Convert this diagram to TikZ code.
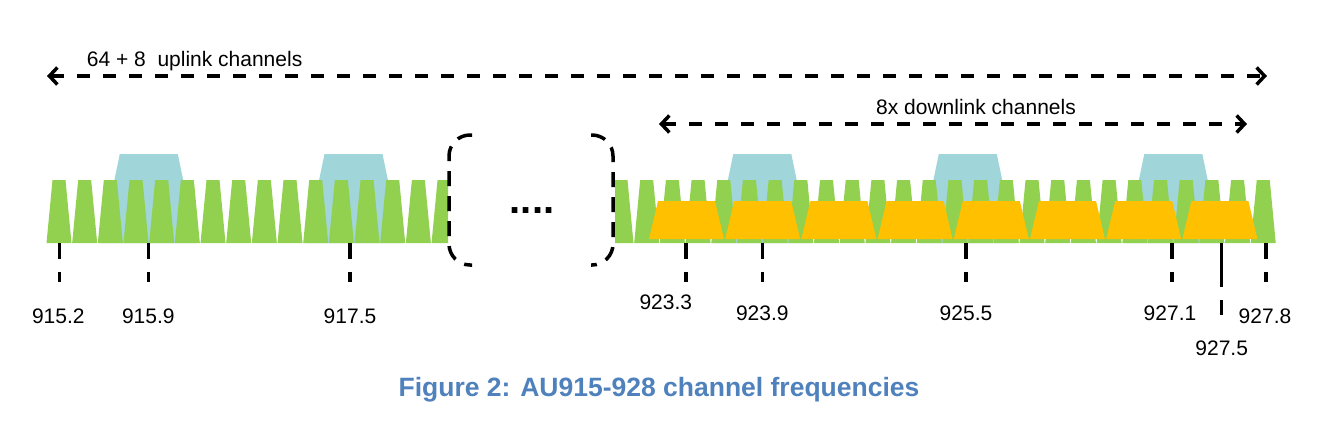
\documentclass[tikz,border=0pt]{standalone}
\usepackage{fontspec}
\setmainfont{Liberation Sans}
\usetikzlibrary{arrows.meta}
\definecolor{chgreen}{HTML}{92D050}
\definecolor{chblue}{RGB}{160,213,217}
\definecolor{chyellow}{HTML}{FFC000}
\definecolor{capblue}{HTML}{4F81BD}
\begin{document}
\begin{tikzpicture}[x=1pt,y=-1pt,
  lbl/.style={inner sep=0pt,font=\fontsize{21}{24}\selectfont},
  ticknormal/.style={line width=3.5pt,dash pattern=on 16pt off 13pt on 10pt off 100pt},
  ticklong/.style={line width=3.5pt,dash pattern=on 44pt off 13pt on 15pt off 100pt},
  dasharrow/.style={line width=3.5pt,dash pattern=on 13pt off 13pt,
    {Straight Barb[length=8pt,width=17pt,line width=3.5pt]}-{Straight Barb[length=8pt,width=17pt,line width=3.5pt]}},
  bracket/.style={line width=3.5pt,dash pattern=on 15pt off 10pt,rounded corners=21pt}
]
\useasboundingbox (0,0) rectangle (1320,423);

% ---------- left block ----------
\begin{scope}
  \clip (40,140) rectangle (448,250);
  \foreach \c in {148.8,353.5} {
    \fill[chblue] ({\c-47.5},243) -- ({\c-29},154) -- ({\c+29},154) -- ({\c+47.5},243) -- cycle;
  }
  \foreach \k in {0,...,15} {
    \pgfmathsetmacro\c{59+25.67*\k}
    \fill[chgreen] ({\c-12.5},243) -- ({\c-6.5},180) -- ({\c+6.5},180) -- ({\c+12.5},243) -- cycle;
  }
\end{scope}

% ---------- right block ----------
\begin{scope}
  \clip (615,140) rectangle (1290,250);
  \foreach \c in {762.3,967.8,1173.3} {
    \fill[chblue] ({\c-47.5},243) -- ({\c-29},154) -- ({\c+29},154) -- ({\c+47.5},243) -- cycle;
  }
  \foreach \k in {0,...,25} {
    \pgfmathsetmacro\c{621+25.69*\k}
    \fill[chgreen] ({\c-12.5},243) -- ({\c-6.5},180) -- ({\c+6.5},180) -- ({\c+12.5},243) -- cycle;
  }
  \foreach \k in {0,...,7} {
    \pgfmathsetmacro\c{686.5+76.2*\k}
    \fill[chyellow] ({\c-37.5},239) -- ({\c-28.5},201) -- ({\c+28.5},201) -- ({\c+37.5},239) -- cycle;
  }
\end{scope}

% ---------- brackets and dots ----------
\coordinate (bl1) at (472,135);
\coordinate (bl2) at (472,265);
\coordinate (br1) at (591,135);
\coordinate (br2) at (591,265);
\draw[bracket] (bl1) -- (449,135) -- (449,265) -- (bl2);
\draw[bracket] (br1) -- (613,135) -- (613,265) -- (br2);
\node[inner sep=0pt,anchor=base,font=\fontsize{40}{44}\selectfont\bfseries] (dots) at (532,213.3) {....};

% ---------- arrows ----------
\coordinate (u1) at (47,76);
\coordinate (u2) at (1267,76);
\draw[dasharrow] (u1) -- (u2);
\node[lbl,anchor=base west] (utext) at (86.7,66) {64 + 8\ \ uplink channels};

\coordinate (d1) at (659,124);
\coordinate (d2) at (1247,124);
\draw[dasharrow] (d1) -- (d2);
\node[lbl,anchor=base west] (dtext) at (876,114) {8x downlink channels};

% ---------- ticks ----------
\foreach \n/\x/\ly/\lx/\t in {a/59.3/316/58.3/915.2, b/148.3/316/148.3/915.9, c/350/316/350/917.5,
  d/686/302.5/665.8/923.3, e/762.3/313/762.3/923.9, f/966/313/966/925.5, g/1172/313/1170/927.1,
  h/1266/316/1265/927.8} {
  \coordinate (t\n1) at (\x,243);
  \coordinate (t\n2) at (\x,282);
  \draw[ticknormal] (t\n1) -- (t\n2);
  \node[lbl] (l\n) at (\lx,\ly) {\t};
}
\coordinate (ti1) at (1221.7,243);
\coordinate (ti2) at (1221.7,315);
\draw[ticklong] (ti1) -- (ti2);
\node[lbl] (li) at (1221.7,348) {927.5};

% ---------- caption ----------
\node[inner sep=0pt,anchor=base,text=capblue,font=\fontsize{26.5}{30}\selectfont\bfseries] (cap) at (659,396) {Figure 2: AU915-928 channel frequencies};
\end{tikzpicture}
\end{document}
